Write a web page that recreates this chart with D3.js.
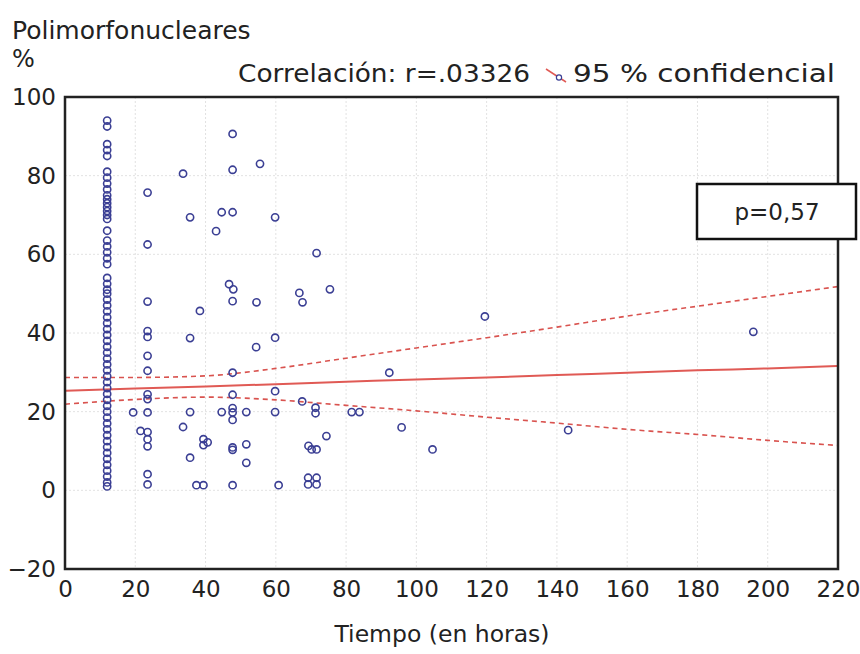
<!DOCTYPE html>
<html>
<head>
<meta charset="utf-8">
<script src="https://cdn.jsdelivr.net/npm/d3@7"></script>
<style>
  body { margin: 0; background: #fff; }
  svg text { font-family: "DejaVu Sans", Verdana, sans-serif; fill: #222; }
</style>
</head>
<body>
<div class="grafico"></div>
<script>
// Datos
var xTicks = [0, 20, 40, 60, 80, 100, 120, 140, 160, 180, 200, 220];
var yTicks = [-20, 0, 20, 40, 60, 80, 100];

// columna a las 12 horas
var col12Y = [94, 92.5, 88, 86.5, 85, 81, 79.5, 78, 76.5, 75, 74, 73, 72, 71, 70, 69,
  66, 63.5, 62, 60.5, 59, 57.5, 54, 52.5, 51, 50, 48.5, 47, 45.5, 44, 42.5, 41, 39.5,
  38, 36.5, 35, 33.5, 32, 30.5, 29, 27.5, 26, 24.5, 23, 21.5, 20, 18.5, 17, 15.5, 14,
  12.5, 11, 9.5, 8, 6.5, 5, 3.5, 2, 1];

// columna a las 24 horas
var col24Y = [75.7, 62.5, 48, 40.5, 39, 34.2, 30.4, 24.4, 23.2, 19.8, 14.8, 13, 11.2, 4.1, 1.5];

// resto de pacientes
var otrosX = [19.4, 21.5, 33.6, 35.6, 38.4, 35.6, 35.6, 33.6, 35.6, 37.4, 39.4, 39.4, 39.4, 40.6,
  43, 44.6, 47.7, 47.7, 47.7, 46.7, 47.9, 47.7, 47.7, 47.7, 44.6, 47.7, 47.7, 47.7, 47.7, 47.7,
  47.7, 51.6, 51.6, 51.6, 54.5, 54.4, 55.5, 59.8, 59.8, 59.8, 59.8, 60.8, 66.7, 67.6, 67.5,
  69.3, 70.2, 71.6, 71.6, 71.3, 71.3, 69.2, 71.6, 69.2, 71.6, 74.4, 75.4, 81.6, 83.8, 92.3,
  95.8, 104.6, 119.5, 143.2, 195.9];
var otrosY = [19.8, 15.1, 80.5, 69.4, 45.6, 38.7, 19.9, 16.1, 8.3, 1.3, 1.3, 13, 11.5, 12.2,
  65.9, 70.7, 70.7, 90.6, 81.5, 52.4, 51.1, 48.1, 29.9, 24.3, 19.9, 20.9, 19.8, 17.9, 10.9, 10.3,
  1.3, 19.9, 11.7, 7.0, 47.8, 36.4, 83, 69.4, 38.8, 25.2, 19.9, 1.3, 50.2, 47.8, 22.6,
  11.3, 10.4, 10.4, 60.3, 21, 19.6, 3.2, 3.2, 1.5, 1.5, 13.8, 51.1, 19.9, 19.9, 29.9,
  16.0, 10.4, 44.2, 15.3, 40.3];

// recta de regresion y banda de confianza 95 %
var bandaX = [0, 20, 40, 60, 80, 100, 120, 140, 160, 180, 200, 220];
var ajusteY = [25.3, 25.9, 26.4, 27.0, 27.6, 28.2, 28.7, 29.3, 29.9, 30.5, 31.0, 31.6];
var superiorY = [28.7, 28.7, 29.1, 31.0, 33.6, 36.2, 38.8, 41.5, 44.3, 46.8, 49.3, 51.8];
var inferiorY = [21.9, 23.1, 23.7, 23.0, 21.6, 20.2, 18.6, 17.1, 15.5, 14.2, 12.7, 11.4];

var puntos = [];
col12Y.forEach(function(v) { puntos.push({ x: 12, y: v }); });
col24Y.forEach(function(v) { puntos.push({ x: 23.5, y: v }); });
otrosX.forEach(function(v, i) { puntos.push({ x: v, y: otrosY[i] }); });

var svg = d3.select(".grafico").append("svg")
  .attr("width", 860)
  .attr("height", 654);

var x = d3.scaleLinear().domain([0, 220]).range([65, 838]);
var y = d3.scaleLinear().domain([-20, 100]).range([569, 97]);

// rejilla punteada
svg.append("g").selectAll("line")
  .data(xTicks.slice(1, -1))
  .enter().append("line")
  .attr("x1", function(d) { return x(d); })
  .attr("x2", function(d) { return x(d); })
  .attr("y1", y(100)).attr("y2", y(-20))
  .attr("stroke", "#e2e2e2").attr("stroke-width", 1).attr("stroke-dasharray", "2,2");

svg.append("g").selectAll("line")
  .data(yTicks.slice(1, -1))
  .enter().append("line")
  .attr("y1", function(d) { return y(d); })
  .attr("y2", function(d) { return y(d); })
  .attr("x1", x(0)).attr("x2", x(220))
  .attr("stroke", "#e2e2e2").attr("stroke-width", 1).attr("stroke-dasharray", "2,2");

// ejes
var ejeX = svg.append("g")
  .attr("transform", "translate(0," + y(-20) + ")")
  .call(d3.axisBottom(x).tickValues(xTicks).tickSize(0).tickPadding(12));
var ejeY = svg.append("g")
  .attr("transform", "translate(" + x(0) + ",0)")
  .call(d3.axisLeft(y).tickValues(yTicks).tickSize(0).tickPadding(9));
[ejeX, ejeY].forEach(function(g) {
  g.select(".domain").remove();
  g.selectAll("text").style("font-size", "23px").attr("fill", "#222")
    .style("font-family", "DejaVu Sans, Verdana, sans-serif");
});

// banda de confianza
var curva = d3.line().curve(d3.curveMonotoneX)
  .x(function(d) { return x(d[0]); })
  .y(function(d) { return y(d[1]); });

svg.append("path")
  .datum(bandaX.map(function(v, i) { return [v, superiorY[i]]; }))
  .attr("d", curva)
  .attr("fill", "none").attr("stroke", "#d9534f").attr("stroke-width", 1.6).attr("stroke-dasharray", "5,4");
svg.append("path")
  .datum(bandaX.map(function(v, i) { return [v, inferiorY[i]]; }))
  .attr("d", curva)
  .attr("fill", "none").attr("stroke", "#d9534f").attr("stroke-width", 1.6).attr("stroke-dasharray", "5,4");
svg.append("path")
  .datum(bandaX.map(function(v, i) { return [v, ajusteY[i]]; }))
  .attr("d", curva)
  .attr("fill", "none").attr("stroke", "#e05a55").attr("stroke-width", 2);

// puntos
svg.append("g").selectAll("circle")
  .data(puntos)
  .enter().append("circle")
  .attr("cx", function(d) { return x(d.x); })
  .attr("cy", function(d) { return y(d.y); })
  .attr("r", 3.6)
  .attr("fill", "none")
  .attr("stroke", "#3b3f94")
  .attr("stroke-width", 1.6);

// marco
svg.append("rect")
  .attr("x", x(0)).attr("y", y(100))
  .attr("width", x(220) - x(0)).attr("height", y(-20) - y(100))
  .attr("fill", "none").attr("stroke", "#222").attr("stroke-width", 2.5);

// cuadro p
svg.append("rect")
  .attr("x", 697).attr("y", 184).attr("width", 159).attr("height", 55)
  .attr("fill", "#fff").attr("stroke", "#111").attr("stroke-width", 2.5);
svg.append("text")
  .attr("x", 777).attr("y", 220)
  .attr("text-anchor", "middle")
  .style("font-size", "23px")
  .text("p=0,57");

// titulos
svg.append("text").attr("x", 12).attr("y", 39).style("font-size", "25px").text("Polimorfonucleares");
svg.append("text").attr("x", 12).attr("y", 67).style("font-size", "24px").text("%");
svg.append("text").attr("x", 238).attr("y", 82).style("font-size", "24px")
  .attr("textLength", 292).attr("lengthAdjust", "spacingAndGlyphs").text("Correlación: r=.03326");
svg.append("line").attr("x1", 546).attr("y1", 69).attr("x2", 566).attr("y2", 82)
  .attr("stroke", "#e05a55").attr("stroke-width", 1.5);
svg.append("circle").attr("cx", 559).attr("cy", 77.5).attr("r", 2.6)
  .attr("fill", "#fff").attr("stroke", "#3b3f94").attr("stroke-width", 1.2);
svg.append("text").attr("x", 573).attr("y", 82).style("font-size", "24px")
  .attr("textLength", 262).attr("lengthAdjust", "spacingAndGlyphs").text("95 % confidencial");
svg.append("text").attr("x", 442).attr("y", 642).attr("text-anchor", "middle")
  .style("font-size", "23.5px").text("Tiempo (en horas)");
</script>
</body>
</html>
